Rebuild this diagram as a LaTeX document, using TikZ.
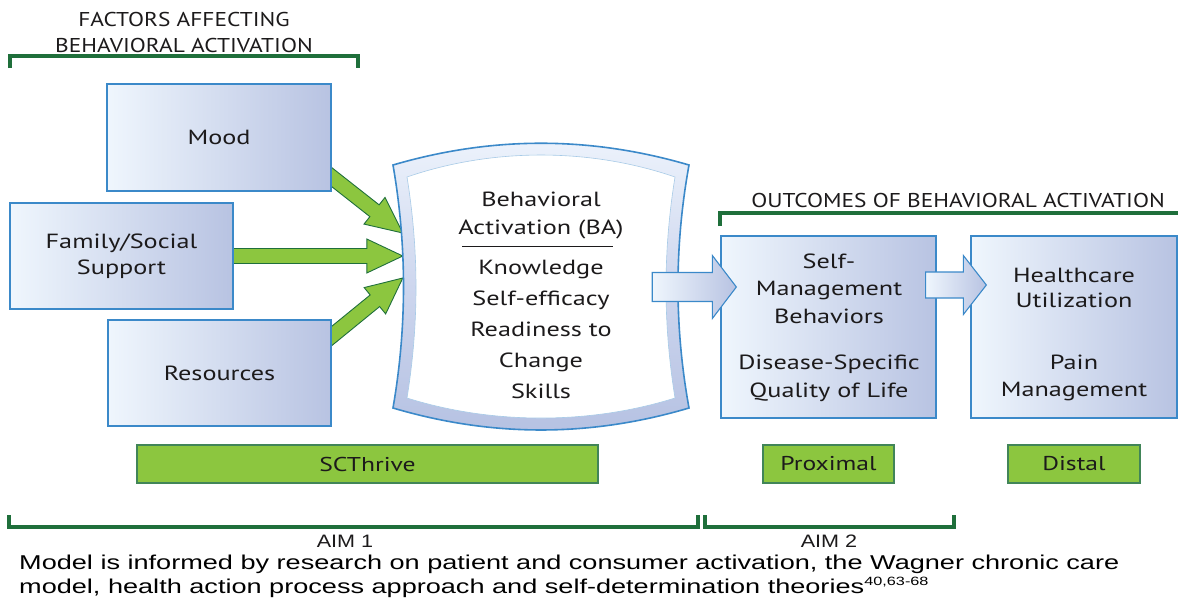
\documentclass[tikz,border=0pt]{standalone}
\usepackage{fontspec}
\setmainfont[FakeStretch=1.28]{PT Sans}
\newfontfamily\headfont[FakeStretch=1.17]{PT Sans}
\newfontfamily\capfont[FakeStretch=1.355]{Liberation Sans}
\newfontfamily\aimfont[FakeStretch=1.2]{Liberation Sans}
\usetikzlibrary{calc}
\pgfdeclarelayer{back}
\pgfsetlayers{back,main}

\definecolor{ink}{HTML}{1C1A1B}
\definecolor{frameblue}{HTML}{3B89C9}
\definecolor{fadeblue}{HTML}{EFF6FD}
\definecolor{lavender}{HTML}{B8C3E2}
\definecolor{bandtop}{HTML}{EDF3FC}
\definecolor{bandmid}{HTML}{CDD6EE}
\definecolor{bandlow}{HTML}{B5C1E2}
\definecolor{leaf}{HTML}{8CC63F}
\definecolor{forest}{HTML}{1F6F3B}

\tikzset{
  factorbox/.style={draw=frameblue, line width=1.3pt, left color=fadeblue,
    right color=lavender, inner sep=0, align=center, text=ink,
    font=\fontsize{20.5}{26}\selectfont},
  tagbar/.style={draw=forest!85, line width=1.2pt, fill=leaf, inner sep=0,
    text=ink, font=\fontsize{20}{23}\selectfont},
  txt/.style={inner sep=0, text=ink, align=center, font=\fontsize{20.5}{26}\selectfont},
  headtxt/.style={inner sep=0, text=ink, align=center, font=\headfont\fontsize{20}{26}\selectfont},
  bracket/.style={draw=forest, line width=3.2pt},
  greenshaft/.style={fill=leaf, draw=forest, line width=0.9pt, line join=miter},
  bluearrow/.style={draw=frameblue, line width=1.1pt, left color=fadeblue,
    right color=lavender, line join=miter},
}

% fat green arrow from #1 to the tip #2
\newcommand\leafarrow[2]{%
  \coordinate (#1-h) at ($(#2)!36pt!(#1)$);
  \path[greenshaft] ($(#1)!7.5pt!90:(#2)$) -- ($(#1-h)!7.5pt!90:(#2)$)
    -- ($(#1-h)!17pt!90:(#2)$) -- (#2) -- ($(#1-h)!17pt!-90:(#2)$)
    -- ($(#1-h)!7.5pt!-90:(#2)$) -- ($(#1)!7.5pt!-90:(#2)$) -- cycle;}

% horizontal block arrow: start, tip, shaft half height, head half height, head length
\newcommand\skyarrow[5]{%
  \path[bluearrow] let \p1=(#1), \p2=(#2) in
    (\x1,\y2+#3) -- (\x2-#5,\y2+#3) -- (\x2-#5,\y2+#4) -- (\x2,\y2)
    -- (\x2-#5,\y2-#4) -- (\x2-#5,\y2-#3) -- (\x1,\y2-#3) -- cycle;}

\begin{document}
\begin{tikzpicture}[x=1pt,y=-1pt]
\useasboundingbox (0,0) rectangle (1178,600);
\clip (0,0) rectangle (1178,600);

% ---------- factors ----------
\node[headtxt, anchor=base] (factorshead) at (184,52)
  {FACTORS AFFECTING\\BEHAVIORAL ACTIVATION};
\draw[bracket] (10,68) -- (10,56) -- (358,56) -- (358,68);

\node[factorbox, minimum width=224pt, minimum height=107pt] (mood) at (219,137.5) {Mood};
\node[factorbox, minimum width=223pt, minimum height=106pt] (family) at (121.5,256)
  {Family/Social\\Support};
\node[factorbox, minimum width=223pt, minimum height=106pt] (resources) at (219.5,373)
  {Resources};

% ---------- behavioral activation ----------
\node[inner sep=0, minimum width=296pt, minimum height=243pt] (ba) at (541,286.5) {};
\path[draw=frameblue, line width=1.6pt, top color=bandtop, bottom color=bandlow, middle color=bandmid]
  (393,165) .. controls (492,136) and (590,136) .. (689,165)
  .. controls (674.3,246) and (674.3,327) .. (689,408)
  .. controls (590,437.3) and (492,437.3) .. (393,408)
  .. controls (407,327) and (407,246) .. (393,165) -- cycle;
\path[fill=white, draw=frameblue!45, line width=0.6pt]
  (407,177) .. controls (492,147.7) and (590,147.7) .. (675,177)
  .. controls (663,251) and (663,324) .. (675,398)
  .. controls (590,424.7) and (492,424.7) .. (407,398)
  .. controls (419,324) and (419,251) .. (407,177) -- cycle;

\node[txt, anchor=base, font=\fontsize{20.5}{28}\selectfont] (bahead) at (541,234)
  {Behavioral\\Activation (BA)};
\draw[ink, line width=0.9pt] ($(ba.center)+(-79,-40.5)$) -- ($(ba.center)+(72,-40.5)$);
\node[txt, anchor=base, font=\fontsize{20.5}{31}\selectfont] (balist) at (541,398)
  {Knowledge\\Self-efficacy\\Readiness to\\Change\\Skills};

% green arrows into the activation frame
\begin{pgfonlayer}{back}
  \coordinate (g1s) at ($(mood.south east)+(-31,-39)$);
  \coordinate (g1t) at ($(ba.west)+(10,-53.5)$);
  \coordinate (g2s) at ($(family.east)+(-6,0)$);
  \coordinate (g2t) at ($(ba.west)+(10,-30.5)$);
  \coordinate (g3s) at ($(resources.north east)+(-31,42)$);
  \coordinate (g3t) at ($(ba.west)+(10,-8.5)$);
  \leafarrow{g1s}{g1t}
  \leafarrow{g2s}{g2t}
  \leafarrow{g3s}{g3t}
\end{pgfonlayer}

% ---------- outcomes ----------
\node[headtxt, anchor=base] (outhead) at (958,207) {OUTCOMES OF BEHAVIORAL ACTIVATION};
\draw[bracket] (720,226) -- (720,213) -- (1185,213);

\node[factorbox, minimum width=215pt, minimum height=182pt] (sm) at (828.5,327) {};
\node[factorbox, minimum width=206pt, minimum height=182pt] (hc) at (1074,327) {};

\node[txt, anchor=base, font=\fontsize{20.5}{27.5}\selectfont] (smtop) at (829,323)
  {Self-\\Management\\Behaviors};
\node[txt, anchor=base, font=\fontsize{20.5}{28}\selectfont] (smlow) at (829,397)
  {Disease-Specific\\Quality of Life};
\node[txt, anchor=base, font=\fontsize{20.5}{25}\selectfont] (hctop) at (1074,307)
  {Healthcare\\Utilization};
\node[txt, anchor=base, font=\fontsize{20.5}{27}\selectfont] (hclow) at (1074,396)
  {Pain\\Management};

\coordinate (b1s) at ($(ba.east)+(-37,0.5)$);
\coordinate (b1t) at ($(sm.west)+(16,-40)$);
\skyarrow{b1s}{b1t}{14.5pt}{31.5pt}{24pt}
\coordinate (b2s) at ($(sm.east)+(-11,-42)$);
\coordinate (b2t) at ($(hc.west)+(16,-42)$);
\skyarrow{b2s}{b2t}{13pt}{29.5pt}{23pt}

% ---------- phases ----------
\node[tagbar, minimum width=461pt, minimum height=38pt] (scthrive) at (367.5,464) {SCThrive};
\node[tagbar, minimum width=131pt, minimum height=38pt] (proximal) at (828.5,464) {Proximal};
\node[tagbar, minimum width=132pt, minimum height=38pt] (distal) at (1074,464) {Distal};

\draw[bracket] (9,515) -- (9,527) -- (698,527) -- (698,515);
\draw[bracket] (705,515) -- (705,527) -- (954,527) -- (954,515);
\node[inner sep=0, anchor=base, text=ink, font=\aimfont\fontsize{18}{18}\selectfont] (aim1) at (345,547) {AIM 1};
\node[inner sep=0, anchor=base, text=ink, font=\aimfont\fontsize{18}{18}\selectfont] (aim2) at (829,547) {AIM 2};

% ---------- note ----------
\node[inner sep=0, anchor=base west, font=\capfont\fontsize{20}{20}\selectfont] (note1) at (19,569)
  {Model is informed by research on patient and consumer activation, the Wagner chronic care};
\node[inner sep=0, anchor=base west, font=\capfont\fontsize{20}{20}\selectfont] (note2) at (19,593)
  {model, health action process approach and self-determination theories\raisebox{8pt}{\fontsize{12}{12}\selectfont 40,63-68}};
\end{tikzpicture}
\end{document}
